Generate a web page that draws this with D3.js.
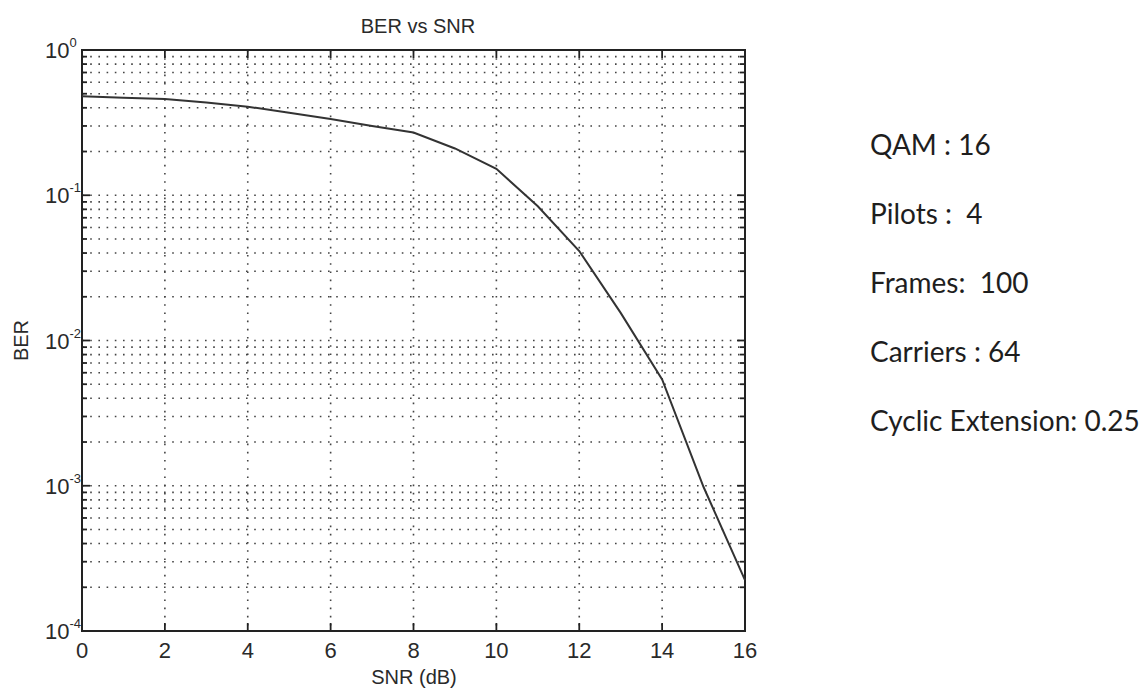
<!DOCTYPE html>
<html>
<head>
<meta charset="utf-8">
<script src="https://cdn.jsdelivr.net/npm/d3@7"></script>
<style>
  body { margin: 0; background: #fff; }
  .ax text { font-family: "Liberation Sans", Arial, sans-serif; fill: #2a2a2a; }
  .info { font-family: Lato, "Open Sans", sans-serif; fill: #1e1e1e; white-space: pre; }
</style>
</head>
<body>
<script>
// data
const snr = [0, 1, 2, 3, 4, 5, 6, 7, 8, 9, 10, 11, 12, 13, 14, 15, 16]
const ber = [0.48, 0.47, 0.46, 0.435, 0.407, 0.37, 0.335, 0.30, 0.27, 0.21, 0.152, 0.084, 0.0413, 0.0155, 0.0054, 0.00098, 0.000224]
const xTicks = [0, 2, 4, 6, 8, 10, 12, 14, 16]
const yExps = [0, -1, -2, -3, -4]
const infoLines = ["QAM : 16", "Pilots :  4", "Frames:  100", "Carriers : 64", "Cyclic Extension: 0.25"]

const width = 1143
const height = 689
const margin = { top: 50, right: 398, bottom: 58, left: 82 }

const svg = d3.select("body").append("svg")
  .attr("width", width)
  .attr("height", height)

const x = d3.scaleLinear().domain([0, 16]).range([margin.left, width - margin.right])
const y = d3.scaleLog().domain([1e-4, 1]).range([height - margin.bottom, margin.top])

// minor + major y values
const yGrid = []
for (let e = -4; e < 0; e++) {
  for (let m = 1; m < 10; m++) yGrid.push(m * Math.pow(10, e))
}

const grid = svg.append("g")
  .attr("stroke", "#444")
  .attr("stroke-width", 1.6)
  .attr("stroke-dasharray", "1.6,6.6")

grid.selectAll(".gy").data(yGrid.filter(v => v > 1e-4)).enter().append("line")
  .attr("x1", x(0)).attr("x2", x(16))
  .attr("y1", d => y(d)).attr("y2", d => y(d))

grid.selectAll(".gx").data(xTicks.slice(1, -1)).enter().append("line")
  .attr("x1", d => x(d)).attr("x2", d => x(d))
  .attr("y1", y(1)).attr("y2", y(1e-4))

// ticks inward
const ticks = svg.append("g").attr("stroke", "#222").attr("stroke-width", 1.8)
yGrid.concat([1]).forEach(v => {
  const major = Math.abs(Math.log10(v) - Math.round(Math.log10(v))) < 1e-9
  const len = major ? 8 : 5
  ticks.append("line").attr("x1", x(0)).attr("x2", x(0) + len).attr("y1", y(v)).attr("y2", y(v))
  ticks.append("line").attr("x1", x(16)).attr("x2", x(16) - len).attr("y1", y(v)).attr("y2", y(v))
})
xTicks.forEach(t => {
  ticks.append("line").attr("x1", x(t)).attr("x2", x(t)).attr("y1", y(1e-4)).attr("y2", y(1e-4) - 8)
  ticks.append("line").attr("x1", x(t)).attr("x2", x(t)).attr("y1", y(1)).attr("y2", y(1) + 8)
})

// frame
svg.append("rect")
  .attr("x", x(0)).attr("y", y(1))
  .attr("width", x(16) - x(0)).attr("height", y(1e-4) - y(1))
  .attr("fill", "none").attr("stroke", "#222").attr("stroke-width", 2)

// curve
const line = d3.line().x((d, i) => x(snr[i])).y(d => y(d))
svg.append("path")
  .datum(ber)
  .attr("d", line)
  .attr("fill", "none")
  .attr("stroke", "#333")
  .attr("stroke-width", 2)

const ax = svg.append("g").attr("class", "ax")

// x tick labels
ax.selectAll(".xl").data(xTicks).enter().append("text")
  .attr("x", d => x(d))
  .attr("y", y(1e-4) + 27)
  .attr("text-anchor", "middle")
  .attr("font-size", 22)
  .text(d => d)

// y tick labels 10^n
yExps.forEach(e => {
  const t = ax.append("text")
    .attr("x", 45)
    .attr("y", y(Math.pow(10, e)) + 8)
    .attr("font-size", 22)
  t.append("tspan").text("10")
  t.append("tspan").attr("dy", -11).attr("font-size", 13).text(e)
})

ax.append("text")
  .attr("x", 418)
  .attr("y", 33)
  .attr("text-anchor", "middle")
  .attr("font-size", 20)
  .text("BER vs SNR")

ax.append("text")
  .attr("x", 414)
  .attr("y", 684)
  .attr("text-anchor", "middle")
  .attr("font-size", 20)
  .text("SNR (dB)")

ax.append("text")
  .attr("transform", `translate(28,${y(1e-2)}) rotate(-90)`)
  .attr("text-anchor", "middle")
  .attr("font-size", 20)
  .text("BER")

// parameter text on the right
svg.append("g").selectAll("text").data(infoLines).enter().append("text")
  .attr("class", "info")
  .attr("x", 870)
  .attr("y", (d, i) => 155 + i * 69)
  .attr("font-size", 28)
  .text(d => d)
</script>
</body>
</html>
